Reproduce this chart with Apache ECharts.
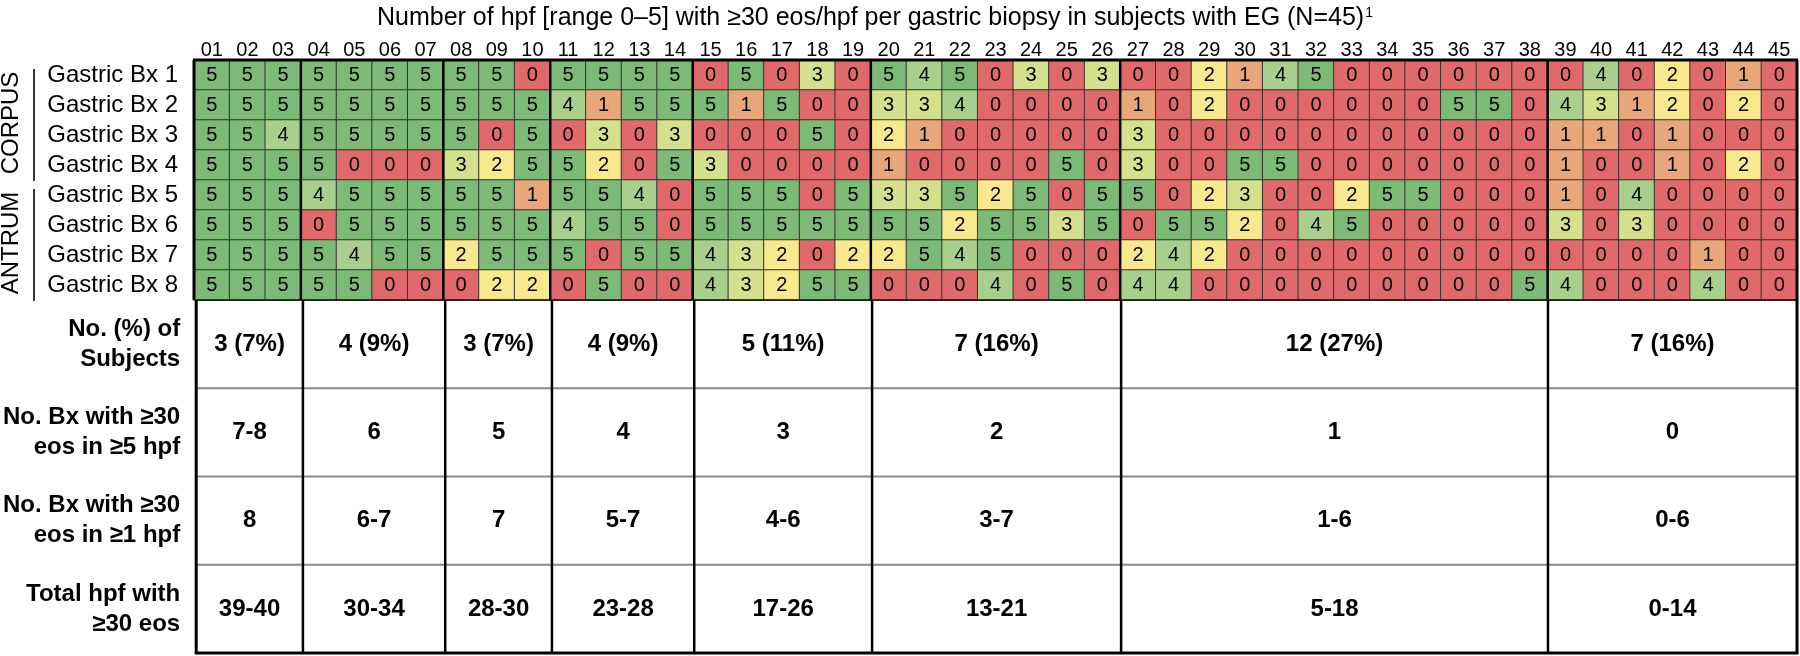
<!DOCTYPE html>
<html>
<head>
<meta charset="utf-8">
<script src="https://cdn.jsdelivr.net/npm/echarts@6/dist/echarts.min.js"></script>
<style>html,body{margin:0;padding:0;background:#fff}#c{width:1800px;height:656px}</style>
</head>
<body>
<div id="c"></div>
<script>
// ---- data ----
const subjects = ['01','02','03','04','05','06','07','08','09','10','11','12','13','14','15','16','17','18','19','20','21','22','23','24','25','26','27','28','29','30','31','32','33','34','35','36','37','38','39','40','41','42','43','44','45'];
const rowNames = ['Gastric Bx 1','Gastric Bx 2','Gastric Bx 3','Gastric Bx 4','Gastric Bx 5','Gastric Bx 6','Gastric Bx 7','Gastric Bx 8'];
const bx1 = [5,5,5,5,5,5,5,5,5,0,5, 5,5,5,0,5,0,3,0,5,4,5,0,3,0,3,0,0, 2,1,4,5,0,0,0,0,0,0,0,4,0,2,0,1,0];
const bx2 = [5,5,5,5,5,5,5,5,5,5,4, 1,5,5,5,1,5,0,0,3,3,4,0,0,0,0,1,0, 2,0,0,0,0,0,0,5,5,0,4,3,1,2,0,2,0];
const bx3 = [5,5,4,5,5,5,5,5,0,5,0, 3,0,3,0,0,0,5,0,2,1,0,0,0,0,0,3,0, 0,0,0,0,0,0,0,0,0,0,1,1,0,1,0,0,0];
const bx4 = [5,5,5,5,0,0,0,3,2,5,5, 2,0,5,3,0,0,0,0,1,0,0,0,0,5,0,3,0, 0,5,5,0,0,0,0,0,0,0,1,0,0,1,0,2,0];
const bx5 = [5,5,5,4,5,5,5,5,5,1,5, 5,4,0,5,5,5,0,5,3,3,5,2,5,0,5,5,0, 2,3,0,0,2,5,5,0,0,0,1,0,4,0,0,0,0];
const bx6 = [5,5,5,0,5,5,5,5,5,5,4, 5,5,0,5,5,5,5,5,5,5,2,5,5,3,5,0,5, 5,2,0,4,5,0,0,0,0,0,3,0,3,0,0,0,0];
const bx7 = [5,5,5,5,4,5,5,2,5,5,5, 0,5,5,4,3,2,0,2,2,5,4,5,0,0,0,2,4, 2,0,0,0,0,0,0,0,0,0,0,0,0,0,1,0,0];
const bx8 = [5,5,5,5,5,0,0,0,2,2,0, 5,0,0,4,3,2,5,5,0,0,0,4,0,5,0,4,4, 0,0,0,0,0,0,0,0,0,5,4,0,0,0,4,0,0];
const regions = [['CORPUS',0,3],['ANTRUM',4,7]];
const groupSizes = [3,4,3,4,5,7,12,7];
const tableLabels = ['No. (%) of\nSubjects','No. Bx with ≥30\neos in ≥5 hpf','No. Bx with ≥30\neos in ≥1 hpf','Total hpf with\n≥30 eos'];
const pctSubjects = ['3 (7%)','4 (9%)','3 (7%)','4 (9%)','5 (11%)','7 (16%)','12 (27%)','7 (16%)'];
const bxIn5 = ['7-8','6','5','4','3','2','1','0'];
const bxIn1 = ['8','6-7','7','5-7','4-6','3-7','1-6','0-6'];
const totalHpf = ['39-40','30-34','28-30','23-28','17-26','13-21','5-18','0-14'];
const titleText = 'Number of hpf [range 0–5] with ≥30 eos/hpf per gastric biopsy in subjects with EG (N=45)';

// ---- build ----
const FONT = '"Liberation Sans", Arial, Helvetica, sans-serif';
const rows = [bx1,bx2,bx3,bx4,bx5,bx6,bx7,bx8];
const heat = [];
rows.forEach((r, yi) => r.forEach((v, xi) => heat.push([xi, yi, v])));
const starts = [];
groupSizes.reduce((acc, s) => { starts.push(acc); return acc + s; }, 0);
const tableRows = [pctSubjects, bxIn5, bxIn1, totalHpf];
const tableData = [];
tableRows.forEach((row, r) => row.forEach((t, g) => tableData.push([starts[g], r, g])));

const colors = ['#E06A6B','#E8A77A','#F9E98E','#D5E08E','#A8D08C','#7DBA78'];

function frameTop(params, api) {
  const cs = params.coordSys;
  const cw = api.size([1, 0])[0];
  const ch = api.size([0, 1])[1];
  const ch2 = [];
  const L = cs.x, R = cs.x + cs.width, T = cs.y, B = cs.y + cs.height;
  ch2.push({type:'line', shape:{x1:L-1, y1:T, x2:R+1, y2:T}, style:{stroke:'#000', lineWidth:3}});
  ch2.push({type:'line', shape:{x1:L, y1:T, x2:L, y2:B}, style:{stroke:'#000', lineWidth:3}});
  ch2.push({type:'line', shape:{x1:R, y1:T, x2:R, y2:B}, style:{stroke:'#000', lineWidth:3}});
  starts.slice(1).forEach(s => {
    const x = api.coord([s, 0])[0] - cw / 2;
    ch2.push({type:'line', shape:{x1:x, y1:T, x2:x, y2:B}, style:{stroke:'#000', lineWidth:2.5}});
  });
  regions.forEach(([name, a, b]) => {
    const y0 = api.coord([0, a])[1] - ch / 2;
    const y1 = api.coord([0, b])[1] + ch / 2;
    ch2.push({type:'line', shape:{x1:L-160, y1:y0+9, x2:L-160, y2:y1+1}, style:{stroke:'#000', lineWidth:1.6}});
    ch2.push({type:'text', x:L-183, y:(y0+y1)/2 + 3, rotation:Math.PI/2,
      style:{text:name, fontSize:24, fontFamily:FONT, fill:'#000', align:'center', verticalAlign:'middle'}});
  });
  return {type:'group', children:ch2};
}

function frameBottom(params, api) {
  const cs = params.coordSys;
  const cw = api.size([1, 0])[0];
  const ch = api.size([0, 1])[1];
  const L = cs.x, R = cs.x + cs.width, T = cs.y, B = cs.y + cs.height;
  const ch2 = [];
  for (let r = 0; r < tableLabels.length - 1; r++) {
    const y = api.coord([0, r])[1] + ch / 2;
    ch2.push({type:'line', shape:{x1:L, y1:y, x2:R, y2:y}, style:{stroke:'#8a8a8a', lineWidth:2}});
  }
  ch2.push({type:'line', shape:{x1:L, y1:T, x2:R, y2:T}, style:{stroke:'#111', lineWidth:1.5}});
  starts.slice(1).forEach(s => {
    const x = api.coord([s, 0])[0] - cw / 2;
    ch2.push({type:'line', shape:{x1:x, y1:T, x2:x, y2:B}, style:{stroke:'#000', lineWidth:2.5}});
  });
  ch2.push({type:'line', shape:{x1:L, y1:T, x2:L, y2:B}, style:{stroke:'#000', lineWidth:3}});
  ch2.push({type:'line', shape:{x1:R, y1:T, x2:R, y2:B}, style:{stroke:'#000', lineWidth:3}});
  ch2.push({type:'line', shape:{x1:L-1.5, y1:B, x2:R+1.5, y2:B}, style:{stroke:'#000', lineWidth:3}});
  return {type:'group', children:ch2};
}

function tableCell(params, api) {
  const s = api.value(0), r = api.value(1), g = api.value(2);
  const p0 = api.coord([s, r]);
  const p1 = api.coord([s + groupSizes[g] - 1, r]);
  return {type:'text', x:(p0[0] + p1[0]) / 2, y:p0[1],
    style:{text:tableRows[r][g], fontSize:24, fontWeight:'bold', fontFamily:FONT, fill:'#000', align:'center', verticalAlign:'middle'}};
}

const chart = echarts.init(document.getElementById('c'), null, {renderer:'canvas'});
chart.setOption({
  backgroundColor:'#fff',
  animation:false,
  title:{
    text:'{t|' + titleText + '}{s|1}',
    left:372, top:1,
    textStyle:{fontWeight:'normal', rich:{
      t:{fontSize:25, fontWeight:'normal', fontFamily:FONT, color:'#000'},
      s:{fontSize:14, fontWeight:'normal', fontFamily:FONT, color:'#000', verticalAlign:'top', padding:[0,0,10,1]}
    }}
  },
  grid:[
    {left:194, right:3, top:60, height:240},
    {left:194, right:3, top:300, height:353}
  ],
  xAxis:[
    {type:'category', gridIndex:0, data:subjects, position:'top',
     axisLine:{show:false}, axisTick:{show:false}, splitLine:{show:false},
     axisLabel:{fontSize:20, fontFamily:FONT, color:'#000', margin:0, interval:0}},
    {type:'category', gridIndex:1, data:subjects, show:false}
  ],
  yAxis:[
    {type:'category', gridIndex:0, data:rowNames, inverse:true,
     axisLine:{show:false}, axisTick:{show:false}, splitLine:{show:false},
     axisLabel:{fontSize:24, fontFamily:FONT, color:'#000', margin:16, interval:0}},
    {type:'category', gridIndex:1, data:tableLabels, inverse:true,
     axisLine:{show:false}, axisTick:{show:false}, splitLine:{show:false},
     axisLabel:{fontSize:24, fontWeight:'bold', fontFamily:FONT, color:'#000', margin:16, lineHeight:30, align:'right', interval:0}}
  ],
  visualMap:{
    type:'piecewise', show:false, seriesIndex:0, dimension:2,
    pieces:colors.map((c, i) => ({value:i, color:c}))
  },
  series:[
    {type:'heatmap', xAxisIndex:0, yAxisIndex:0, data:heat,
     itemStyle:{borderColor:'#333', borderWidth:1},
     label:{show:true, fontSize:20, fontFamily:FONT, color:'#000', formatter:p => String(p.value[2])},
     emphasis:{disabled:true}, z:2},
    {type:'custom', xAxisIndex:0, yAxisIndex:0, data:[[0,0]], renderItem:frameTop, z:5, silent:true},
    {type:'custom', xAxisIndex:1, yAxisIndex:1, data:tableData, renderItem:tableCell, z:5, silent:true},
    {type:'custom', xAxisIndex:1, yAxisIndex:1, data:[[0,0]], renderItem:frameBottom, z:6, silent:true}
  ]
});
</script>
</body>
</html>
